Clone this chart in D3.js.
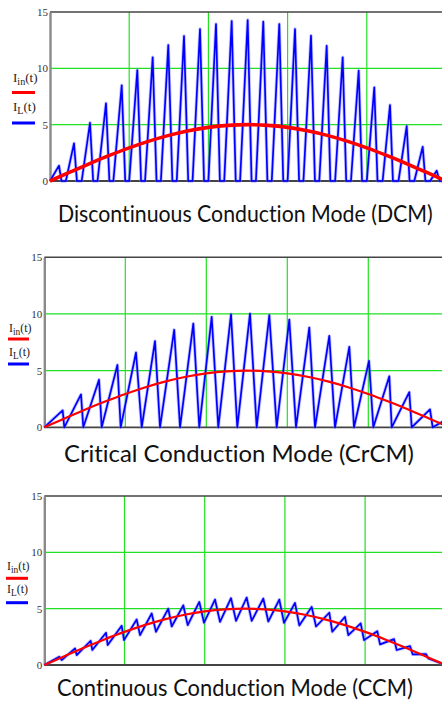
<!DOCTYPE html>
<html>
<head>
<meta charset="utf-8">
<script src="https://cdn.jsdelivr.net/npm/d3@7"></script>
<style>
  html, body { margin: 0; padding: 0; background: #fff; }
  svg { display: block; }
  .title { font-variant-ligatures: none; font-feature-settings: "liga" 0, "clig" 0; }
</style>
</head>
<body>
<svg id="chart" width="442" height="703"></svg>
<script>
// ---- axis ticks (time in ms over one half mains cycle, current in A) ----
const yTicks = [0, 5, 10, 15];
const yGrid = [5, 10];
const xGrid = [2, 4, 6, 8];
const xDomain = [0, 10];

// ---- rectified input current Iin(t), sampled every 0.5 ms ----
const inTime    = [0, 0.5, 1, 1.5, 2, 2.5, 3, 3.5, 4, 4.5, 5, 5.5, 6, 6.5, 7, 7.5, 8, 8.5, 9, 9.5, 10];
const inCurrent = [0, 0.78, 1.55, 2.27, 2.94, 3.54, 4.05, 4.46, 4.76, 4.94, 5.0, 4.94, 4.76, 4.46, 4.05, 3.54, 2.94, 2.27, 1.55, 0.78, 0];

// ---- DCM inductor current: switch-on, peak and return-to-zero times ----
const dcmOnT   = [0, 0.4, 0.8, 1.2, 1.6, 2.0, 2.4, 2.8, 3.2, 3.6, 4.0, 4.4, 4.8, 5.2, 5.6, 6.0, 6.4, 6.8, 7.2, 7.6, 8.0, 8.4, 8.8, 9.2, 9.6];
const dcmPeakT = [0.227, 0.606, 1.010, 1.414, 1.811, 2.205, 2.593, 2.987, 3.384, 3.788, 4.192, 4.588, 4.992, 5.386, 5.790, 6.187, 6.591, 6.987, 7.391, 7.795, 8.189, 8.586, 9.008, 9.412, 9.765];
const dcmPeakI = [1.36, 3.34, 5.17, 6.9, 8.5, 9.85, 10.98, 12.07, 12.87, 13.49, 13.93, 14.2, 14.29, 14.14, 13.93, 13.49, 12.9, 12.0, 10.98, 9.79, 8.31, 6.74, 4.88, 3.04, 0.91];
const dcmOffT  = [0.29, 0.68, 1.09, 1.50, 1.90, 2.30, 2.69, 3.09, 3.49, 3.89, 4.29, 4.69, 5.09, 5.49, 5.89, 6.29, 6.69, 7.08, 7.48, 7.88, 8.27, 8.66, 9.08, 9.48, 9.84];

// ---- CrCM inductor current: peaks, then zero crossings ----
const crcmPeakT   = [0.454, 0.906, 1.351, 1.805, 2.264, 2.733, 3.207, 3.679, 4.133, 4.610, 5.079, 5.556, 6.049, 6.543, 7.037, 7.531, 8.017, 8.519, 9.012, 9.523];
const crcmPeakI   = [1.5, 2.9, 4.2, 5.5, 6.6, 7.6, 8.6, 9.15, 9.74, 9.97, 10.03, 9.89, 9.5, 8.8, 8.06, 7.1, 5.86, 4.5, 3.1, 1.58];
const crcmValleyT = [0.494, 0.963, 1.417, 1.886, 2.405, 2.857, 3.351, 3.827, 4.296, 4.765, 5.244, 5.738, 6.215, 6.684, 7.178, 7.647, 8.124, 8.578, 9.072, 9.590];
const crcmTailT = 10.0;
const crcmTailI = 0.85;

// ---- CCM inductor current: ripple peaks and valleys ----
const ccmPeakT   = [0.374, 0.766, 1.157, 1.539, 1.930, 2.304, 2.678, 3.092, 3.466, 3.865, 4.257, 4.656, 5.047, 5.461, 5.860, 6.252, 6.668, 7.107, 7.499, 7.890, 8.304, 8.721, 9.120, 9.519];
const ccmPeakI   = [0.73, 1.47, 2.15, 2.86, 3.48, 4.04, 4.57, 5.0, 5.3, 5.6, 5.81, 5.93, 5.99, 5.9, 5.81, 5.51, 5.16, 4.64, 4.28, 3.69, 3.0, 2.3, 1.68, 0.97];
const ccmValleyT = [0.434, 0.808, 1.197, 1.581, 1.988, 2.387, 2.785, 3.177, 3.576, 3.983, 4.382, 4.781, 5.172, 5.586, 5.978, 6.359, 6.776, 7.182, 7.581, 7.973, 8.372, 8.788, 9.187, 9.576];
const ccmValleyI = [0.44, 0.88, 1.33, 1.77, 2.21, 2.65, 2.95, 3.42, 3.54, 3.75, 3.83, 3.92, 3.92, 3.86, 3.74, 3.51, 3.42, 2.95, 2.65, 2.21, 1.83, 1.33, 0.94, 0.59];

// ---- waveform vertex lists ----
const inPts = inTime.map((t, i) => [t, inCurrent[i]]);

const dcmPts = [];
dcmOnT.forEach((t, i) => {
  dcmPts.push([t, 0], [dcmPeakT[i], dcmPeakI[i]], [dcmOffT[i], 0]);
});
dcmPts.push([xDomain[1], 0]);

const crcmPts = [[0, 0]];
crcmPeakT.forEach((t, i) => {
  crcmPts.push([t, crcmPeakI[i]], [crcmValleyT[i], 0]);
});
crcmPts.push([crcmTailT, crcmTailI]);

const ccmPts = [[0, 0]];
ccmPeakT.forEach((t, i) => {
  ccmPts.push([t, ccmPeakI[i]], [ccmValleyT[i], ccmValleyI[i]]);
});
ccmPts.push([xDomain[1], 0]);

// ---- panel layout ----
const panels = [
  { pts: dcmPts, left: 50, right: 446, top: 12, bottom: 181, redW: 3.6,
    title: "Discontinuous Conduction Mode (DCM)", titleX: 58, titleW: 375, titleY: 222,
    leg: { x: 12, w: 23, inY: 82, redY: 92.5, lY: 111, blueY: 123, fs: 13 } },
  { pts: crcmPts, left: 44.3, right: 449.3, top: 257.3, bottom: 427.3, redW: 2.2,
    title: "Critical Conduction Mode (CrCM)", titleX: 64, titleW: 350, titleY: 462,
    leg: { x: 8, w: 21, inY: 332, redY: 339, lY: 356, blueY: 364, fs: 12 } },
  { pts: ccmPts, left: 44.3, right: 445.3, top: 496, bottom: 665, redW: 2.2,
    title: "Continuous Conduction Mode (CCM)", titleX: 57, titleW: 356, titleY: 696,
    leg: { x: 6, w: 22, inY: 570, redY: 578.3, lY: 593, blueY: 602.7, fs: 12 } }
];

const svg = d3.select("#chart");
svg.append("rect").attr("width", 442).attr("height", 703).attr("fill", "#fff");

panels.forEach(p => {
  const x = d3.scaleLinear().domain(xDomain).range([p.left, p.right]);
  const y = d3.scaleLinear().domain([0, 15]).range([p.bottom, p.top]);
  const g = svg.append("g");

  // grid
  g.selectAll(".vg").data(xGrid).join("line")
    .attr("x1", d => x(d)).attr("x2", d => x(d))
    .attr("y1", p.top).attr("y2", p.bottom)
    .attr("stroke", "#22e022").attr("stroke-width", 1.2);
  g.selectAll(".hg").data(yGrid).join("line")
    .attr("x1", p.left).attr("x2", p.right)
    .attr("y1", d => y(d)).attr("y2", d => y(d))
    .attr("stroke", "#22e022").attr("stroke-width", 1.2);

  // frame: top border and time axis
  g.append("line").attr("x1", p.left).attr("x2", p.right)
    .attr("y1", p.top).attr("y2", p.top)
    .attr("stroke", "#444").attr("stroke-width", 1.6);
  g.append("line").attr("x1", p.left).attr("x2", p.right)
    .attr("y1", p.bottom).attr("y2", p.bottom)
    .attr("stroke", "#444").attr("stroke-width", 1.8);

  // current axis
  const ax = g.append("g").attr("transform", `translate(${p.left},0)`)
    .call(d3.axisLeft(y).tickValues(yTicks).tickSize(0).tickPadding(2).tickFormat(d3.format("d")));
  ax.select(".domain").attr("stroke", "#8a8a8a").attr("stroke-width", 2.4);
  ax.selectAll("text").attr("font-family", "Liberation Serif, serif")
    .attr("font-size", 11).attr("fill", "#333");

  const line = d3.line().x(d => x(d[0])).y(d => y(d[1]));

  // inductor current (with soft edge)
  g.append("path").attr("d", line(p.pts)).attr("fill", "none")
    .attr("stroke", "#7a7aff").attr("stroke-opacity", 0.45).attr("stroke-width", 3.4)
    .attr("stroke-linejoin", "round");
  g.append("path").attr("d", line(p.pts)).attr("fill", "none")
    .attr("stroke", "#0000ff").attr("stroke-width", 1.7)
    .attr("stroke-linejoin", "round");

  // input current
  const inLine = d3.line().x(d => x(d[0])).y(d => y(d[1])).curve(d3.curveMonotoneX);
  g.append("path").attr("d", inLine(inPts)).attr("fill", "none")
    .attr("stroke", "#ff0000").attr("stroke-width", p.redW);

  // legend
  const L = p.leg;
  const t1 = g.append("text").attr("x", L.x + 1).attr("y", L.inY)
    .attr("font-family", "Liberation Serif, serif").attr("font-size", L.fs).attr("fill", "#222");
  t1.append("tspan").text("I");
  t1.append("tspan").attr("dy", 3).attr("font-size", L.fs * 0.78).text("in");
  t1.append("tspan").attr("dy", -3).text("(t)");
  g.append("line").attr("x1", L.x).attr("x2", L.x + L.w)
    .attr("y1", L.redY).attr("y2", L.redY)
    .attr("stroke", "#ff0000").attr("stroke-width", 3);
  const t2 = g.append("text").attr("x", L.x + 1).attr("y", L.lY)
    .attr("font-family", "Liberation Serif, serif").attr("font-size", L.fs).attr("fill", "#222");
  t2.append("tspan").text("I");
  t2.append("tspan").attr("dy", 3).attr("font-size", L.fs * 0.78).text("L");
  t2.append("tspan").attr("dy", -3).text("(t)");
  g.append("line").attr("x1", L.x).attr("x2", L.x + L.w)
    .attr("y1", L.blueY).attr("y2", L.blueY)
    .attr("stroke", "#0000ff").attr("stroke-width", 3);

  // title, narrowed horizontally to its printed width
  const tt = svg.append("text").attr("class", "title")
    .attr("x", 0).attr("y", 0)
    .attr("font-family", "Lato, 'Open Sans', sans-serif").attr("font-size", 24)
    .attr("fill", "#111")
    .text(p.title);
  const natural = tt.node().getComputedTextLength();
  tt.attr("transform", `translate(${p.titleX},${p.titleY}) scale(${p.titleW / natural},1)`);
});
</script>
</body>
</html>
